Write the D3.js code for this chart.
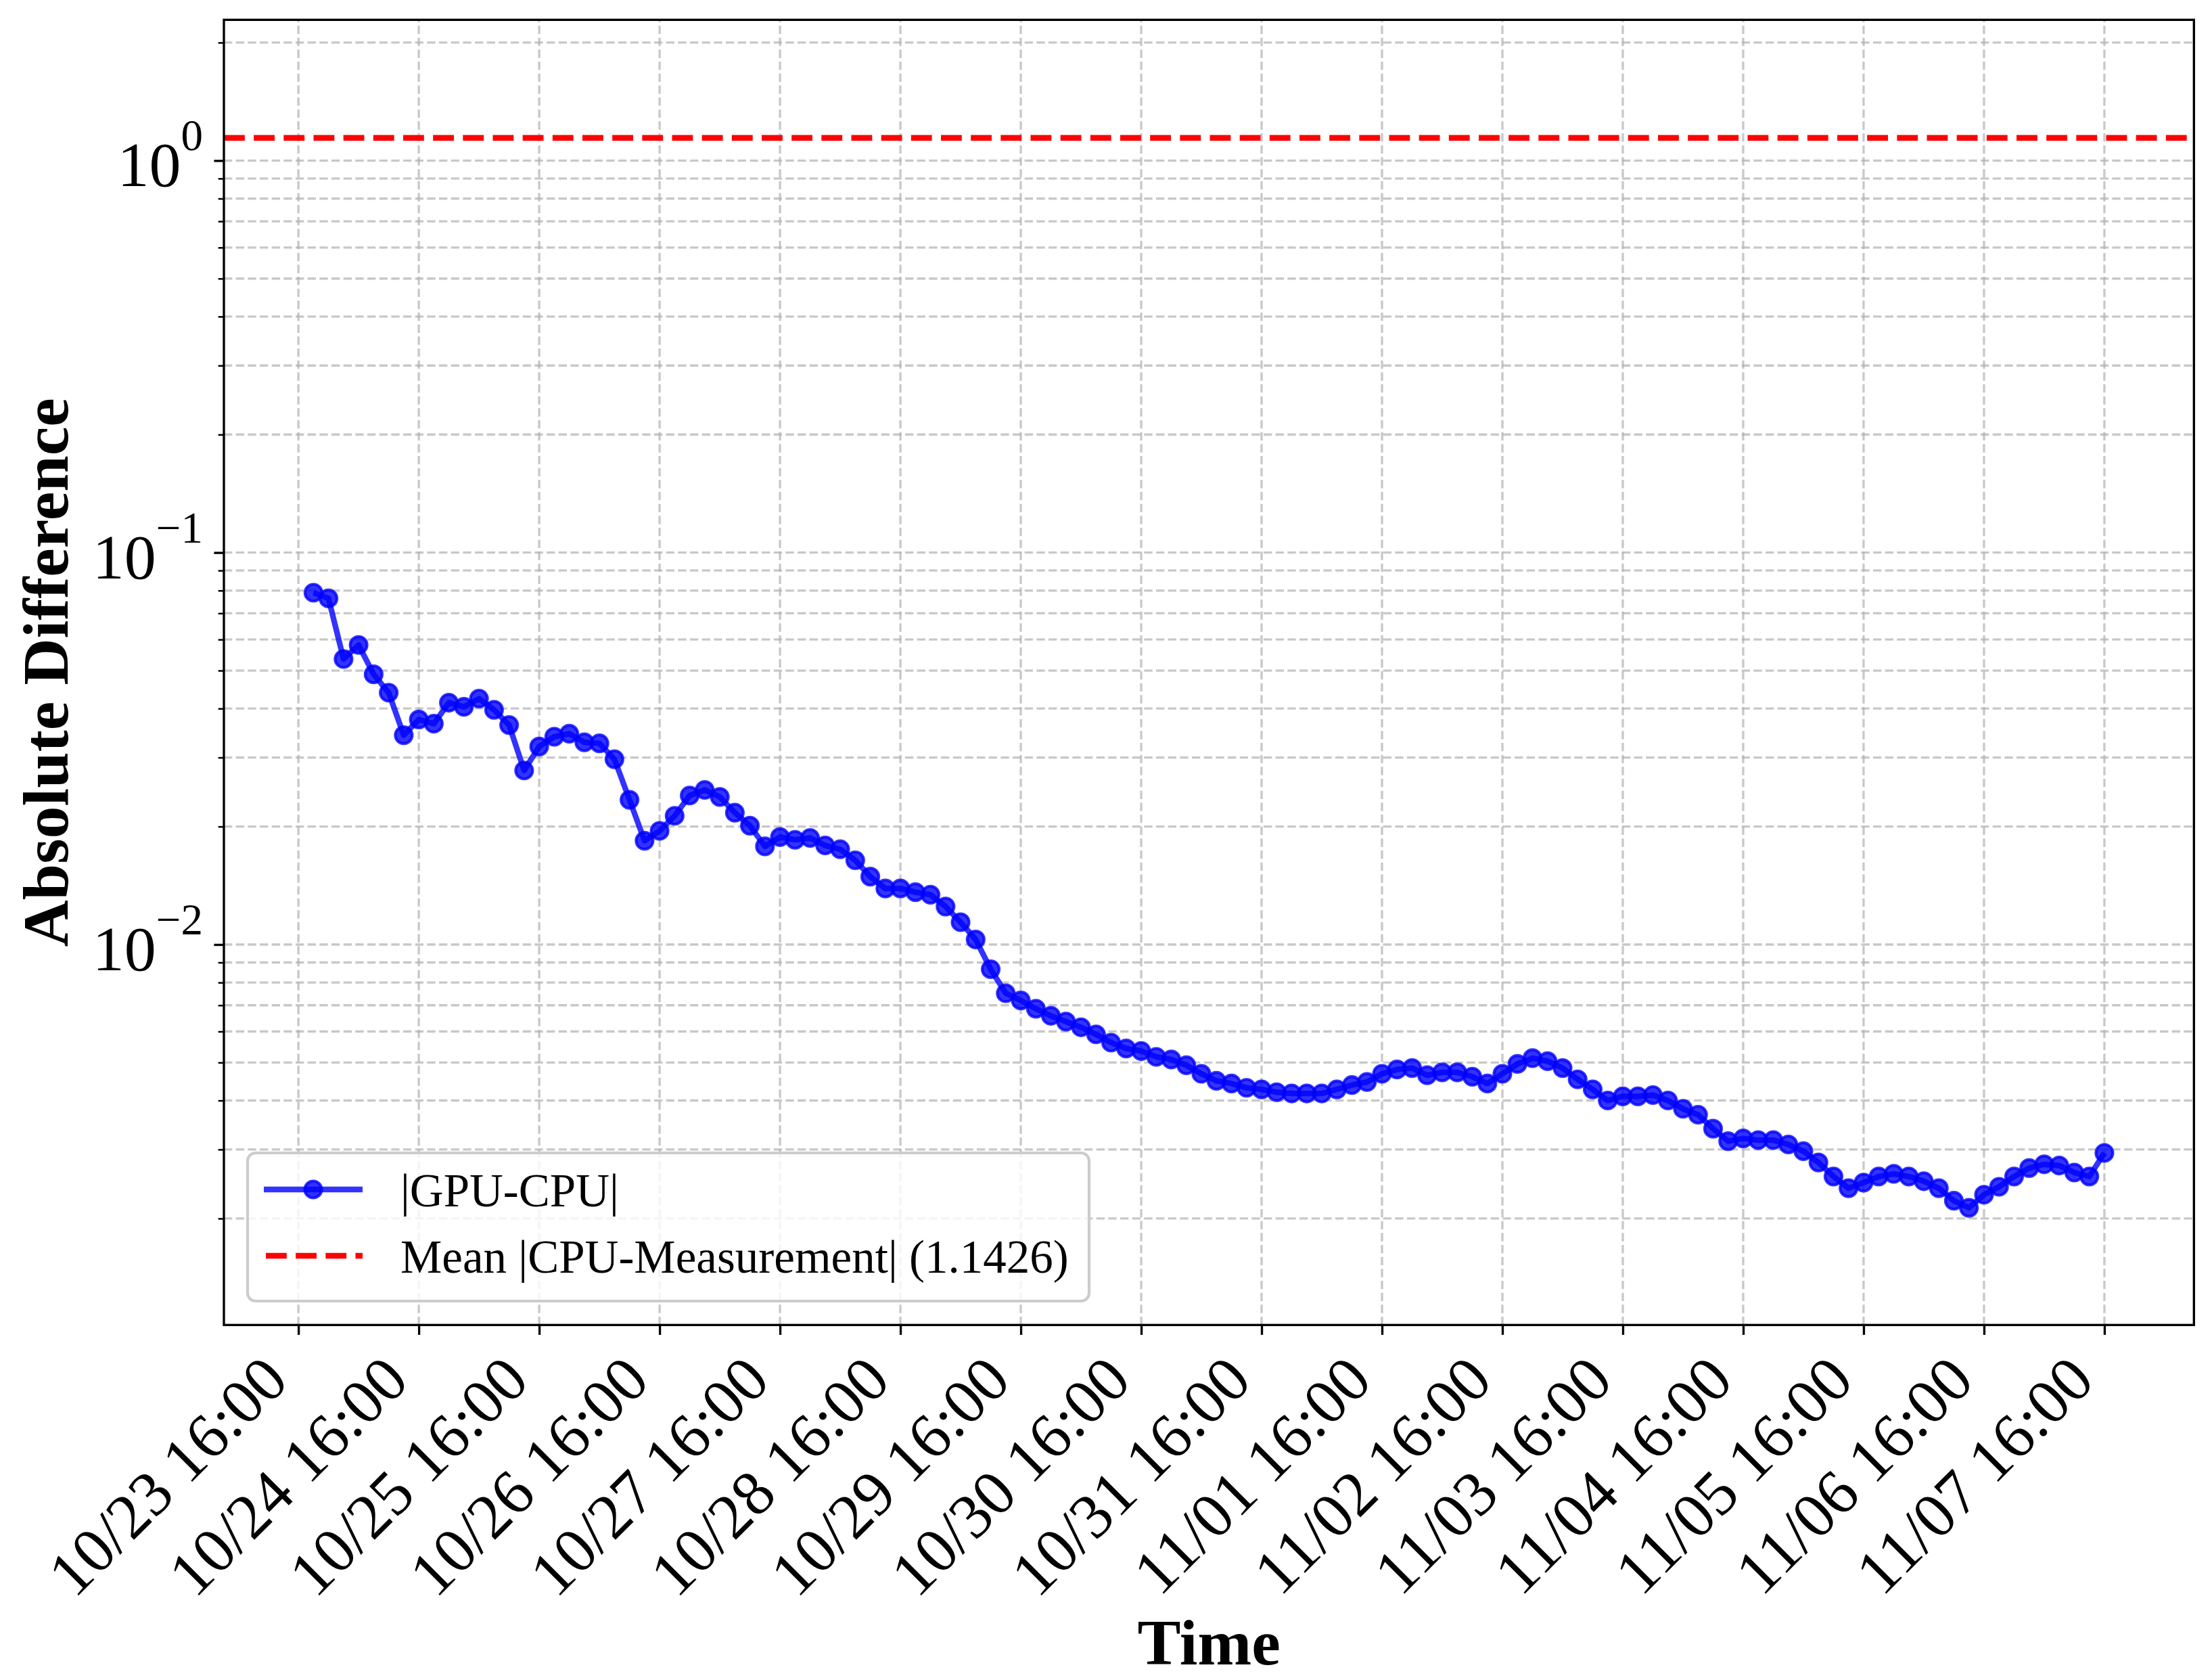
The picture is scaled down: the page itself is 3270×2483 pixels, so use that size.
<!DOCTYPE html>
<html>
<head>
<meta charset="utf-8">
<script src="https://cdn.jsdelivr.net/npm/d3@7"></script>
<style>
  body { margin: 0; background: #fff; }
  text { font-family: "Liberation Serif", "Times New Roman", serif; fill: #000; }
</style>
</head>
<body>
<div id="chart"></div>
<script>

////////////////////////////////////////////////////////////////////////
// Data

// samples every 3 hours, first one at 10/23 19:00
const firstSample = Date.UTC(2024, 9, 23, 19, 0);
const sampleHours = 3;

// |GPU-CPU|
const gpuCpu = [
  0.0790, 0.0764, 0.0535, 0.0581, 0.0489, 0.0439, 0.0342, 0.0375,
  0.0366, 0.0414, 0.0404, 0.0424, 0.0397, 0.0363, 0.0278, 0.0320,
  0.0339, 0.0345, 0.0328, 0.0326, 0.0297, 0.0234, 0.0184, 0.0195,
  0.0213, 0.0240, 0.0248, 0.0238, 0.0217, 0.0201, 0.0178, 0.0188,
  0.0185, 0.0187, 0.0179, 0.0175, 0.0164, 0.0149, 0.0139, 0.0139,
  0.0136, 0.0134, 0.0125, 0.0114, 0.0103, 0.00865, 0.00751, 0.00720,
  0.00686, 0.00658, 0.00636, 0.00615, 0.00590, 0.00562, 0.00543, 0.00535,
  0.00517, 0.00509, 0.00492, 0.00468, 0.00449, 0.00442, 0.00431, 0.00427,
  0.00420, 0.00417, 0.00417, 0.00417, 0.00427, 0.00438, 0.00446, 0.00468,
  0.00480, 0.00484, 0.00464, 0.00472, 0.00472, 0.00460, 0.00442, 0.00468,
  0.00496, 0.00513, 0.00504, 0.00484, 0.00453, 0.00427, 0.00400, 0.00410,
  0.00410, 0.00413, 0.00400, 0.00381, 0.00368, 0.00339, 0.00315, 0.00320,
  0.00317, 0.00317, 0.00309, 0.00297, 0.00278, 0.00256, 0.00239, 0.00247,
  0.00256, 0.00260, 0.00256, 0.00249, 0.00239, 0.00222, 0.00213, 0.00230,
  0.00241, 0.00256, 0.00269, 0.00275, 0.00273, 0.00262, 0.00256, 0.00294
];

// mean |CPU-Measurement|
const meanCpuMeas = 1.1426;

const xTickLabels = [
  "10/23 16:00", "10/24 16:00", "10/25 16:00", "10/26 16:00",
  "10/27 16:00", "10/28 16:00", "10/29 16:00", "10/30 16:00",
  "10/31 16:00", "11/01 16:00", "11/02 16:00", "11/03 16:00",
  "11/04 16:00", "11/05 16:00", "11/06 16:00", "11/07 16:00"
];

const yMajorTicks = [0.01, 0.1, 1];
const yMajorExp = ["\u22122", "\u22121", "0"];
const yDomain = [0.00107, 2.286];

const legendLabels = ["|GPU-CPU|", "Mean |CPU-Measurement| (" + meanCpuMeas.toFixed(4) + ")"];


////////////////////////////////////////////////////////////////////////
// Layout

const width = 3270;
const height = 2483;
const plotL = 331, plotR = 3243.3, plotT = 29.3, plotB = 1958.3;
const pt = 300 / 72;   // figure was drawn at 300 dpi
const markerR = 12.5;

const svg = d3.select("#chart").append("svg")
  .attr("width", width)
  .attr("height", height)
  .style("background", "#fff");

const times = gpuCpu.map((d, i) => new Date(firstSample + i * sampleHours * 3600e3));
const points = gpuCpu.map((v, i) => ({ t: times[i], v: v }));

// parse "MM/DD HH:MM" into a date in the same year
function parseTick(s) {
  const [md, hm] = s.split(" ");
  const [mo, dd] = md.split("/").map(Number);
  const [hh, mm] = hm.split(":").map(Number);
  return new Date(Date.UTC(2024, mo - 1, dd, hh, mm));
}
const xTickDates = xTickLabels.map(parseTick);

// x domain padded by 5% like matplotlib
const [t0, t1] = d3.extent(times);
const pad = (t1 - t0) * 0.05;
const xScale = d3.scaleUtc()
  .domain([new Date(+t0 - pad), new Date(+t1 + pad)])
  .range([plotL, plotR]);

const yScale = d3.scaleLog()
  .domain(yDomain)
  .range([plotB, plotT]);

// minor ticks 2..9 x 10^k inside the domain
const yMinorTicks = [];
for (let k = -3; k <= 0; k++) {
  for (let m = 2; m <= 9; m++) {
    const v = m * Math.pow(10, k);
    if (v > yDomain[0] && v < yDomain[1]) yMinorTicks.push(v);
  }
}


////////////////////////////////////////////////////////////////////////
// Grid

const grid = svg.append("g")
  .attr("stroke", "#b0b0b0")
  .attr("stroke-opacity", 0.7)
  .attr("stroke-width", 0.8 * pt)
  .attr("stroke-dasharray", `${3.7 * 0.8 * pt},${1.6 * 0.8 * pt}`);

grid.selectAll("line.gx")
  .data(xTickDates)
  .join("line")
  .attr("class", "gx")
  .attr("x1", d => xScale(d)).attr("x2", d => xScale(d))
  .attr("y1", plotB).attr("y2", plotT);

grid.selectAll("line.gy")
  .data(yMajorTicks.concat(yMinorTicks))
  .join("line")
  .attr("class", "gy")
  .attr("x1", plotL).attr("x2", plotR)
  .attr("y1", d => yScale(d)).attr("y2", d => yScale(d));


////////////////////////////////////////////////////////////////////////
// Series

svg.append("line")
  .attr("x1", plotL).attr("x2", plotR)
  .attr("y1", yScale(meanCpuMeas)).attr("y2", yScale(meanCpuMeas))
  .attr("stroke", "red")
  .attr("stroke-width", 2 * pt)
  .attr("stroke-dasharray", `${7.4 * pt},${3.2 * pt}`);

const line = d3.line()
  .x(d => xScale(d.t))
  .y(d => yScale(d.v));

svg.append("path")
  .datum(points)
  .attr("d", line)
  .attr("fill", "none")
  .attr("stroke", "blue")
  .attr("stroke-opacity", 0.8)
  .attr("stroke-width", 2 * pt)
  .attr("stroke-linejoin", "round");

svg.append("g")
  .selectAll("circle")
  .data(points)
  .join("circle")
  .attr("cx", d => xScale(d.t))
  .attr("cy", d => yScale(d.v))
  .attr("r", markerR)
  .attr("fill", "blue")
  .attr("fill-opacity", 0.8)
  .attr("stroke", "blue")
  .attr("stroke-opacity", 0.8)
  .attr("stroke-width", 1 * pt);


////////////////////////////////////////////////////////////////////////
// Axes

const xAxis = svg.append("g")
  .attr("transform", `translate(0, ${plotB})`)
  .call(d3.axisBottom(xScale)
    .tickValues(xTickDates)
    .tickFormat((d, i) => xTickLabels[i])
    .tickSize(3.5 * pt));
xAxis.select(".domain").remove();
xAxis.selectAll(".tick line").attr("stroke-width", 0.8 * pt);
xAxis.selectAll(".tick text")
  .attr("x", 0).attr("y", 0).attr("dy", null)
  .attr("font-size", 94)
  .attr("font-family", "Liberation Serif")
  .attr("text-anchor", "end")
  .attr("transform", "translate(-12, 86) rotate(-45)");

const yAxis = svg.append("g")
  .attr("transform", `translate(${plotL}, 0)`)
  .call(d3.axisLeft(yScale)
    .tickValues(yMajorTicks)
    .tickFormat("")
    .tickSize(3.5 * pt));
yAxis.select(".domain").remove();
yAxis.selectAll(".tick line").attr("stroke-width", 0.8 * pt);

const yMinor = svg.append("g")
  .attr("transform", `translate(${plotL}, 0)`)
  .call(d3.axisLeft(yScale)
    .tickValues(yMinorTicks)
    .tickFormat("")
    .tickSize(2 * pt));
yMinor.select(".domain").remove();
yMinor.selectAll(".tick line").attr("stroke-width", 0.6 * pt);

// 10^k labels
const yLab = svg.append("g")
  .selectAll("text")
  .data(yMajorTicks)
  .join("text")
  .attr("x", plotL - 31)
  .attr("y", d => yScale(d) + 38)
  .attr("text-anchor", "end")
  .attr("font-size", 94);
yLab.append("tspan").text("10");
yLab.append("tspan")
  .attr("dy", -53)
  .attr("font-size", 65)
  .text((d, i) => yMajorExp[i]);

// frame
svg.append("rect")
  .attr("x", plotL).attr("y", plotT)
  .attr("width", plotR - plotL).attr("height", plotB - plotT)
  .attr("fill", "none")
  .attr("stroke", "#000")
  .attr("stroke-width", 0.8 * pt);

svg.append("text")
  .attr("x", (plotL + plotR) / 2)
  .attr("y", 2460)
  .attr("text-anchor", "middle")
  .attr("font-size", 96)
  .attr("font-weight", "bold")
  .text("Time");

svg.append("text")
  .attr("transform", `translate(100, ${(plotT + plotB) / 2}) rotate(-90)`)
  .attr("text-anchor", "middle")
  .attr("font-size", 96)
  .attr("font-weight", "bold")
  .text("Absolute Difference");


////////////////////////////////////////////////////////////////////////
// Legend

const legend = svg.append("g");
legend.append("rect")
  .attr("x", 366).attr("y", 1704)
  .attr("width", 1610 - 366).attr("height", 1923 - 1704)
  .attr("rx", 12)
  .attr("fill", "#fff")
  .attr("fill-opacity", 0.8)
  .attr("stroke", "#cccccc")
  .attr("stroke-width", 1 * pt);

const hx0 = 390, hx1 = 536, rowY = [1758, 1856];

legend.append("line")
  .attr("x1", hx0).attr("x2", hx1)
  .attr("y1", rowY[0]).attr("y2", rowY[0])
  .attr("stroke", "blue").attr("stroke-opacity", 0.8)
  .attr("stroke-width", 2 * pt);
legend.append("circle")
  .attr("cx", (hx0 + hx1) / 2).attr("cy", rowY[0]).attr("r", markerR)
  .attr("fill", "blue").attr("fill-opacity", 0.8)
  .attr("stroke", "blue").attr("stroke-opacity", 0.8)
  .attr("stroke-width", 1 * pt);
legend.append("line")
  .attr("x1", hx0 + 3).attr("x2", hx1)
  .attr("y1", rowY[1]).attr("y2", rowY[1])
  .attr("stroke", "red")
  .attr("stroke-width", 2 * pt)
  .attr("stroke-dasharray", `${7.4 * pt},${3.2 * pt}`);

legend.selectAll("text")
  .data(legendLabels)
  .join("text")
  .attr("x", 592)
  .attr("y", (d, i) => rowY[i] + 25)
  .attr("font-size", 69)
  .text(d => d);

</script>
</body>
</html>
